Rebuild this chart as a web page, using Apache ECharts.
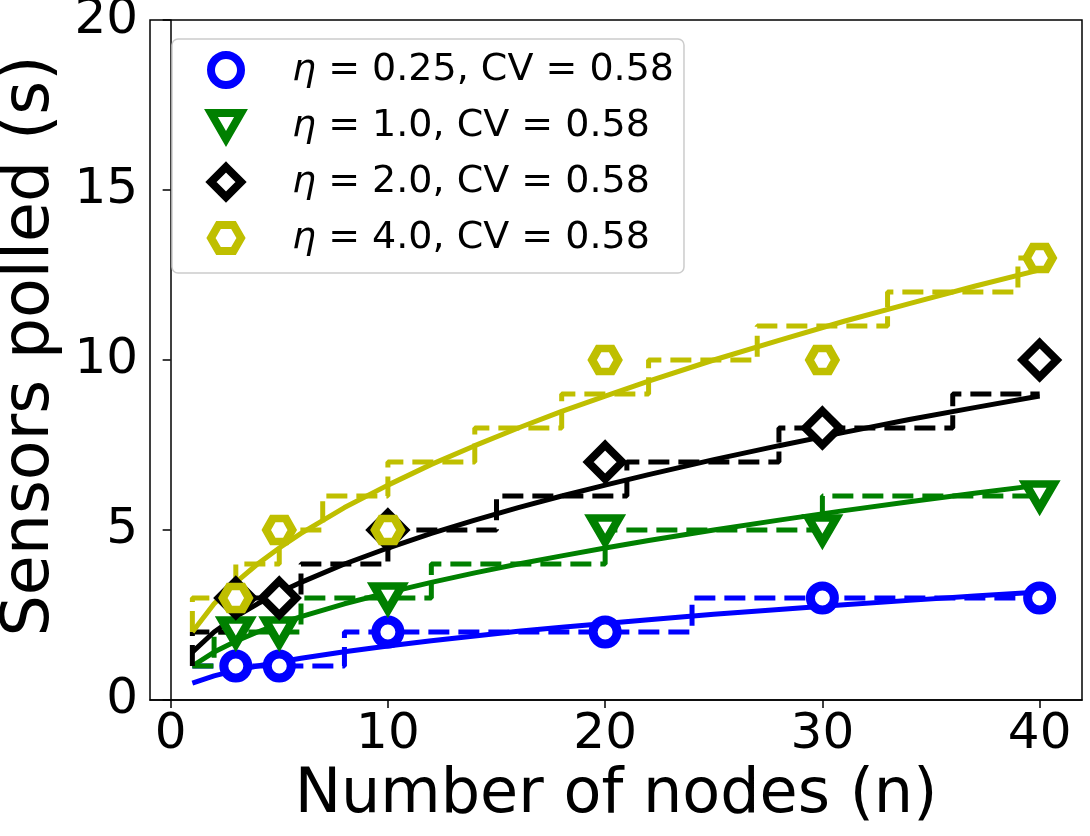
<!DOCTYPE html>
<html>
<head>
<meta charset="utf-8">
<script src="https://cdn.jsdelivr.net/npm/echarts@6/dist/echarts.min.js"></script>
<style>
  html, body { margin: 0; padding: 0; background: #fff; }
  #chart { width: 1090px; height: 836px; }
</style>
</head>
<body>
<div id="chart"></div>
<script>
// measured points (x = number of nodes)
const nodes = [3, 5, 10, 20, 30, 40]
const polledEta025 = [1, 1, 2, 2, 3, 3]
const polledEta1 = [2, 2, 3, 5, 5, 6]
const polledEta2 = [3, 3, 5, 7, 8, 10]
const polledEta4 = [3, 5, 5, 10, 10, 13]

// fitted curves
const fitNodes = [1, 2, 3, 4, 5, 6, 8, 10, 12, 14, 16, 18, 20, 22, 25, 28, 31, 34, 37, 40]
const fitEta025 = [0.5, 0.71, 0.87, 1.0, 1.12, 1.23, 1.42, 1.59, 1.74, 1.88, 2.02, 2.14, 2.25, 2.36, 2.52, 2.66, 2.8, 2.93, 3.06, 3.18]
const fitEta1 = [1.0, 1.41, 1.73, 2.0, 2.24, 2.45, 2.83, 3.16, 3.46, 3.74, 4.0, 4.24, 4.47, 4.69, 5.0, 5.29, 5.57, 5.83, 6.08, 6.32]
const fitEta2 = [1.41, 2.0, 2.45, 2.83, 3.16, 3.46, 4.0, 4.47, 4.9, 5.29, 5.66, 6.0, 6.32, 6.63, 7.07, 7.48, 7.87, 8.25, 8.6, 8.94]
const fitEta4 = [2.0, 2.83, 3.46, 4.0, 4.47, 4.9, 5.66, 6.32, 6.93, 7.48, 8.0, 8.49, 8.94, 9.38, 10.0, 10.58, 11.14, 11.66, 12.17, 12.65]

// dashed step lines: corners where the level changes
const stepNodesEta025 = [1, 8, 24, 40]
const stepEta025 = [1, 1, 2, 3]
const stepNodesEta1 = [1, 2, 6, 12, 20, 30, 40]
const stepEta1 = [1, 1, 2, 3, 4, 5, 6]
const stepNodesEta2 = [1, 3, 6, 10, 15, 21, 28, 36, 40]
const stepEta2 = [1, 2, 3, 4, 5, 6, 7, 8, 9]
const stepNodesEta4 = [1, 3, 5, 7, 10, 14, 18, 22, 27, 33, 39, 40]
const stepEta4 = [2, 3, 4, 5, 6, 7, 8, 9, 10, 11, 12, 13]

const xTicks = [0, 10, 20, 30, 40]

const zip = (xs, ys) => xs.map((x, i) => [x, ys[i]])

const hexagon = 'path://M-1,0 L-0.5,-0.866 L0.5,-0.866 L1,0 L0.5,0.866 L-0.5,0.866 Z'
const triDown = 'path://M0,0 L2,0 L1,1.73 Z'

const groups = [
  { name: 'η = 0.25, CV = 0.58', color: '#0000ff', symbol: 'circle', size: 24, bw: 9, pts: polledEta025, fit: fitEta025, sx: stepNodesEta025, sy: stepEta025 },
  { name: 'η = 1.0, CV = 0.58', color: '#008000', symbol: triDown, size: [28, 24], bw: 8, pts: polledEta1, fit: fitEta1, sx: stepNodesEta1, sy: stepEta1 },
  { name: 'η = 2.0, CV = 0.58', color: '#000000', symbol: 'diamond', size: 34, bw: 8, pts: polledEta2, fit: fitEta2, sx: stepNodesEta2, sy: stepEta2 },
  { name: 'η = 4.0, CV = 0.58', color: '#bfbf00', symbol: hexagon, size: [26, 23], bw: 8, pts: polledEta4, fit: fitEta4, sx: stepNodesEta4, sy: stepEta4 }
]

const series = []
groups.forEach(g => {
  series.push({
    name: g.name,
    type: 'scatter',
    data: zip(nodes, g.pts),
    symbol: g.symbol,
    symbolSize: g.size,
    itemStyle: { color: '#ffffff', borderColor: g.color, borderWidth: g.bw, opacity: 1 },
    z: 3
  })
  series.push({
    type: 'line',
    data: zip(fitNodes, g.fit),
    showSymbol: false,
    lineStyle: { color: g.color, width: 5 },
    z: 3
  })
  series.push({
    type: 'line',
    data: zip(g.sx, g.sy),
    step: 'start',
    showSymbol: false,
    lineStyle: { color: g.color, width: 5, type: [21, 9] },
    z: 3
  })
})

const chart = echarts.init(document.getElementById('chart'))
chart.setOption({
  animation: false,
  backgroundColor: '#ffffff',
  textStyle: { fontFamily: 'DejaVu Sans' },
  grid: {
    left: 150, right: 8, top: 20, bottom: 136,
    outerBoundsMode: 'none',
    containLabel: false,
    show: true, borderColor: '#000', borderWidth: 1.5
  },
  legend: {
    orient: 'vertical',
    left: 172,
    top: 39,
    data: groups.map(g => g.name),
    itemWidth: 30,
    itemHeight: 30,
    itemGap: 16,
    padding: [11, 10, 15, 35],
    backgroundColor: 'rgba(255,255,255,0.8)',
    borderColor: '#cccccc',
    borderWidth: 1.5,
    borderRadius: 6,
    itemStyle: { borderWidth: 8 },
    formatter: name => '{i|η}' + name.slice(1),
    textStyle: {
      fontFamily: 'DejaVu Sans',
      fontSize: 38,
      lineHeight: 40,
      color: '#000',
      padding: [0, 0, 0, 46],
      rich: {
        i: { fontFamily: 'DejaVu Sans', fontStyle: 'italic', fontSize: 38, color: '#000' }
      }
    }
  },
  xAxis: {
    type: 'value',
    min: -0.95,
    max: 41.95,
    name: 'Number of nodes (n)',
    nameLocation: 'middle',
    nameGap: 62,
    nameTextStyle: { fontFamily: 'DejaVu Sans', fontSize: 62, color: '#000' },
    axisLine: { show: true, lineStyle: { color: '#000', width: 1.5 } },
    axisTick: { show: true, inside: false, length: 8, lineStyle: { color: '#000', width: 1.5 }, customValues: xTicks },
    axisLabel: { fontSize: 50, color: '#000', margin: 10, customValues: xTicks },
    splitLine: { show: false }
  },
  yAxis: {
    type: 'value',
    min: 0,
    max: 20,
    interval: 5,
    name: 'Sensors polled (s)',
    nameLocation: 'middle',
    nameGap: 86,
    nameTextStyle: { fontFamily: 'DejaVu Sans', fontSize: 65, color: '#000', padding: [0, 0, 0, 28] },
    axisLine: { show: true, lineStyle: { color: '#000', width: 1.5 } },
    axisTick: { show: true, inside: false, length: 8, lineStyle: { color: '#000', width: 1.5 } },
    axisLabel: { fontSize: 50, color: '#000', margin: 12 },
    splitLine: { show: false }
  },
  series: series
})
</script>
</body>
</html>
